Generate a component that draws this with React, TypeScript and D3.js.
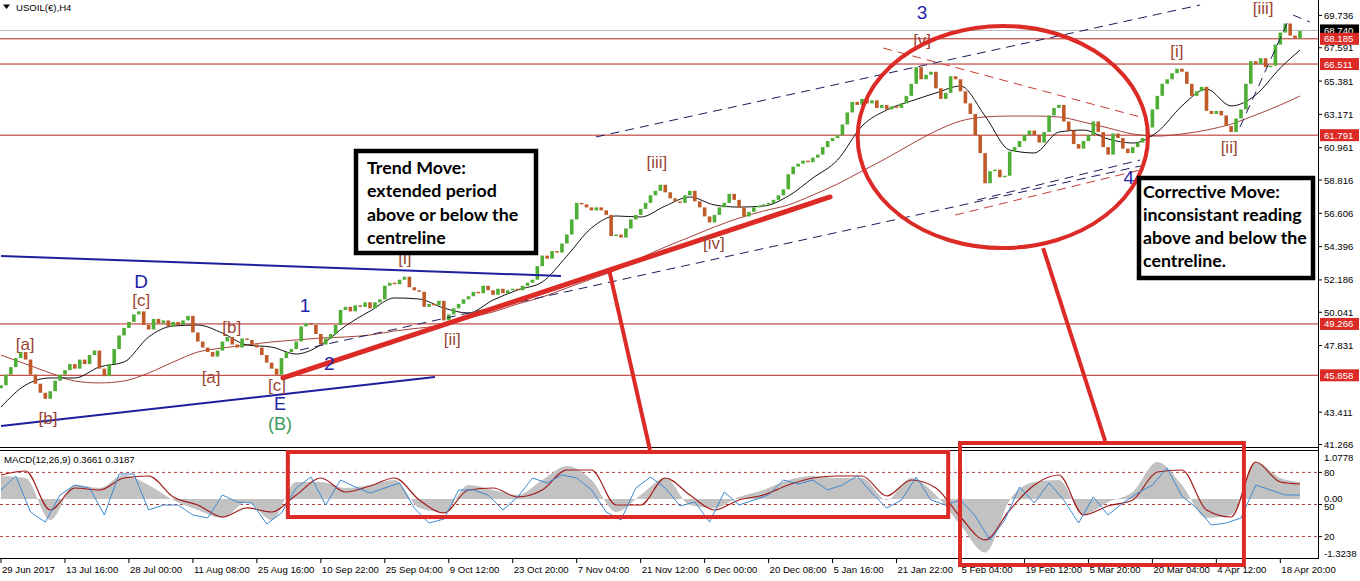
import React, { useLayoutEffect } from "react";
import * as d3 from "d3";

// ---- price data (H4 closes, one value per plotted bar) ----
const firstOpen = 45.0;
const closes: number[] = [
  45.2, 45.9, 46.4, 47.0, 47.4, 46.9, 45.9, 45.3, 44.7, 44.3, 44.8, 45.5, 45.9,
  46.2, 46.6, 46.3, 46.9, 46.6, 47.2, 47.5, 46.3, 45.8, 46.6, 47.6, 48.5, 49.0,
  49.4, 49.9, 50.1, 49.2, 48.9, 49.6, 49.3, 49.5, 49.1, 49.4, 49.2, 49.5, 49.8,
  48.7, 48.1, 47.7, 47.4, 47.1, 47.5, 48.1, 48.4, 47.9, 47.7, 48.3, 48.2, 47.9,
  47.7, 47.2, 46.7, 46.3, 45.9, 47.0, 47.4, 47.6, 48.1, 49.1, 49.3, 49.2, 48.6,
  47.9, 48.3, 48.6, 49.2, 50.2, 50.4, 50.1, 50.5, 50.4, 50.7, 50.3, 50.7, 50.9,
  51.8, 52.0, 51.9, 52.2, 52.4, 51.7, 51.5, 51.4, 50.4, 50.6, 50.5, 50.8, 49.5,
  49.9, 50.3, 50.6, 50.9, 51.1, 51.4, 51.3, 51.8, 51.5, 51.2, 51.6, 51.3, 51.5,
  51.6, 51.5, 51.8, 52.0, 52.2, 53.1, 53.8, 53.6, 54.1, 54.0, 54.6, 55.2, 56.2,
  57.3, 57.2, 57.0, 56.8, 57.0, 56.8, 56.5, 55.1, 55.2, 55.0, 55.6, 56.2, 56.5,
  56.9, 57.3, 57.8, 58.1, 58.5, 58.0, 57.6, 57.4, 57.3, 57.8, 58.1, 57.4, 57.0,
  56.4, 56.0, 56.5, 57.0, 57.3, 57.9, 57.5, 57.0, 56.4, 56.7, 57.0, 57.1, 57.2,
  57.3, 57.5, 57.8, 58.2, 59.2, 59.7, 59.9, 60.1, 60.0, 60.3, 60.5, 61.0, 61.4,
  61.6, 61.8, 62.5, 63.3, 64.0, 63.8, 64.2, 63.9, 64.1, 63.6, 63.8, 63.5, 63.7,
  63.6, 63.9, 64.4, 65.2, 66.3, 65.5, 65.8, 66.0, 64.9, 64.2, 64.6, 65.7, 65.5,
  64.7, 63.9, 63.2, 61.8, 60.6, 58.6, 59.4, 59.5, 59.0, 59.1, 60.7, 61.0, 61.4,
  61.8, 62.1, 61.8, 61.3, 62.0, 63.1, 63.6, 63.8, 62.7, 62.1, 61.2, 60.9, 61.4,
  61.8, 62.7, 62.0, 61.0, 60.5, 61.9, 61.6, 60.9, 60.6, 61.0, 61.3, 61.6, 62.3,
  63.5, 64.4, 65.2, 65.5, 65.9, 66.2, 66.0, 65.2, 64.4, 64.7, 65.0, 63.4, 63.2,
  63.4, 63.1, 62.4, 62.0, 62.9, 63.5, 65.2, 66.7, 66.5, 66.9, 66.3, 66.4, 67.8,
  68.6, 69.2, 68.4, 68.2, 68.7,
];

// ---- moving averages, sampled every 5 bars ----
const maIndex: number[] = [
  0, 5, 10, 15, 20, 25, 30, 35, 40, 45, 50, 55, 60, 65, 70, 75, 80, 85, 90, 95,
  100, 105, 110, 115, 120, 125, 130, 135, 140, 145, 150, 155, 160, 165, 170, 175,
  180, 185, 190, 195, 200, 205, 210, 215, 220, 225, 230, 235, 240, 245, 250, 255,
  260, 264,
];
const maFast: number[] = [
  43.75, 45.21, 45.68, 45.68, 46.41, 46.74, 48.4, 49.13, 49.19, 48.66, 47.87,
  47.73, 47.27, 47.87, 49.13, 50.12, 50.99, 50.92, 50.32, 49.99, 50.85, 51.52,
  52.05, 53.77, 55.63, 56.43, 56.36, 57.09, 57.69, 57.16, 57.02, 57.09, 57.75,
  58.95, 60.14, 62.4, 63.46, 64.06, 64.59, 65.05, 63.06, 60.81, 60.61, 62.0,
  62.13, 61.54, 61.27, 62.0, 63.73, 64.85, 63.73, 64.46, 66.25, 67.44,
];
const maSlow: number[] = [
  47.2, 46.61, 46.01, 45.48, 45.35, 45.48, 46.01, 46.74, 47.4, 47.67, 47.87,
  48.07, 48.2, 48.33, 48.4, 48.53, 48.8, 48.99, 49.19, 49.66, 50.06, 50.59,
  51.05, 51.65, 52.25, 52.84, 53.64, 54.37, 55.03, 55.7, 56.29, 56.76, 57.16,
  57.82, 58.55, 59.41, 60.27, 61.2, 62.07, 62.73, 63.0, 63.06, 63.06, 63.0,
  62.66, 62.27, 61.87, 61.73, 61.87, 62.13, 62.53, 63.13, 63.79, 64.39,
];

// ---- MACD(12,26,9), sampled every 5 bars ----
const macdMain: number[] = [
  0.517, 0.472, -0.471, 0.315, 0.247, 0.539, 0.315, -0.021, -0.246, -0.426,
  -0.066, -0.471, 0.382, 0.382, 0.247, 0.315, 0.427, -0.201, -0.291, 0.315,
  0.203, 0.09, 0.427, 0.741, 0.427, -0.291, 0.09, 0.472, -0.134, -0.201, 0.046,
  0.203, 0.427, 0.517, 0.472, 0.472, -0.021, 0.472, 0.09, -0.583, -1.2, -0.021,
  0.382, 0.427, -0.358, -0.066, 0.158, 0.831, 0.315, -0.426, -0.358, 0.831,
  0.472, 0.382,
];
const macdSignal: number[] = [
  0.539, 0.629, -0.246, 0.247, 0.203, 0.472, 0.517, 0.046, -0.134, -0.403,
  -0.201, -0.291, 0.09, 0.472, 0.158, 0.292, 0.472, -0.021, -0.313, 0.203,
  0.247, 0.046, 0.203, 0.651, 0.651, -0.134, -0.134, 0.472, 0.09, -0.246,
  -0.021, 0.09, 0.315, 0.472, 0.517, 0.517, 0.068, 0.427, 0.247, -0.403, -0.919,
  -0.246, 0.315, 0.539, -0.358, -0.156, -0.021, 0.606, 0.651, -0.246, -0.403,
  0.831, 0.382, 0.337,
];

// ---- oscillator (0..100, levels 80/50/20), sampled every 3 bars ----
const oscStep = 3;
const oscValues: number[] = [
  63.6, 76.6, 43.0, 33.6, 58.9, 68.2, 65.4, 40.2, 78.5, 78.5,
  44.9, 49.5, 49.5, 40.2, 37.4, 58.9, 52.3, 51.4, 31.8, 42.1,
  65.4, 75.7, 49.5, 72.9, 66.4, 60.7, 65.4, 70.1, 46.7, 32.7,
  36.4, 63.6, 63.6, 58.9, 44.9, 57.0, 74.8, 70.1, 77.6, 74.8,
  63.6, 43.0, 35.5, 65.4, 75.7, 65.4, 48.6, 52.3, 33.6, 61.7,
  49.5, 54.2, 58.9, 72.9, 69.2, 72.9, 63.6, 68.2, 76.6, 60.7,
  46.7, 54.2, 75.7, 54.2, 49.5, 54.2, 39.3, 16.8, 35.5, 66.4,
  51.4, 70.1, 54.2, 32.7, 57.0, 40.2, 51.4, 60.7, 68.2, 84.1,
  57.9, 46.7, 30.8, 32.7, 37.4, 68.2, 63.6, 58.9, 58.9,
];
const oscLevels: number[] = [80, 50, 20];

// ---- axes ----
const timeLabels: string[] = [
  "29 Jun 2017", "13 Jul 16:00", "28 Jul 00:00", "11 Aug 08:00", "25 Aug 16:00",
  "10 Sep 22:00", "25 Sep 04:00", "9 Oct 12:00", "23 Oct 20:00", "7 Nov 04:00",
  "21 Nov 12:00", "6 Dec 00:00", "20 Dec 08:00", "5 Jan 16:00", "21 Jan 22:00",
  "5 Feb 04:00", "19 Feb 12:00", "5 Mar 20:00", "20 Mar 04:00", "4 Apr 12:00",
  "18 Apr 20:00",
];
const barsPerTimeLabel = 13;
const priceTicks: number[] = [
  69.736, 67.591, 65.381, 63.171, 60.961, 58.816, 56.606, 54.396, 52.186,
  50.041, 47.831, 43.411, 41.266,
];
const priceLevels: number[] = [68.185, 66.511, 61.791, 49.266, 45.858];
const lastPrice = 68.74;
const macdMax = 1.0778;
const macdMin = -1.3238;

// ---- annotations in (bar index, price) ----
const blueLines = [
  [[0, 53.77], [113.8, 52.45]],
  [[0, 42.49], [88.2, 45.74]],
];
const trendLine = [[57.3, 45.68], [168.5, 57.69]];
const channelLines = [
  [[60.8, 47.54], [232.5, 59.81]],
  [[120.9, 61.67], [243.7, 70.43]],
  [[198.4, 57.49], [231.5, 60.14]],
  [[251.8, 62.33], [261.4, 69.23]],
  [[262.6, 69.76], [266.0, 69.3]],
];
const redDashed = [
  [[179.3, 67.57], [231.5, 63.0]],
  [[193.9, 56.49], [231.5, 59.48]],
];
const ellipseData = { idx: 203.6, price: 61.67, halfBars: 29.5, halfPrice: 7.37 };
const connectors = [
  { from: [123.6, 52.84], to: [131.9, 1.1] },
  { from: [211.8, 54.3], to: [224.4, 1.302] },
];
const macdBoxes = [
  { i0: 58.3, i1: 192.5, top: 1.055, bottom: -0.404 },
  { i0: 194.9, i1: 252.6, top: 1.257, bottom: -1.481 },
];

const BROWN = "#9a4535";
const NAVY = "#2323a8";
const GREEN = "#3c9a5c";
type WaveLabel = { t: string; i: number; p: number; c: string; s: number };
const waveLabels: WaveLabel[] = [
  { t: "[a]", i: 4.9, p: 47.87, c: BROWN, s: 17 },
  { t: "[b]", i: 9.55, p: 42.96, c: BROWN, s: 17 },
  { t: "D", i: 28.5, p: 52.05, c: NAVY, s: 19 },
  { t: "[c]", i: 28.5, p: 50.79, c: BROWN, s: 17 },
  { t: "[a]", i: 42.7, p: 45.74, c: BROWN, s: 17 },
  { t: "[b]", i: 46.9, p: 49.06, c: BROWN, s: 17 },
  { t: "[c]", i: 56.1, p: 45.15, c: BROWN, s: 17 },
  { t: "E", i: 56.7, p: 43.98, c: NAVY, s: 18 },
  { t: "(B)", i: 56.7, p: 42.62, c: GREEN, s: 18 },
  { t: "1", i: 61.8, p: 50.52, c: NAVY, s: 19 },
  { t: "2", i: 66.7, p: 46.61, c: NAVY, s: 19 },
  { t: "[i]", i: 82.1, p: 53.6, c: BROWN, s: 17 },
  { t: "[ii]", i: 91.7, p: 48.26, c: BROWN, s: 17 },
  { t: "[iii]", i: 133.3, p: 60.01, c: BROWN, s: 17 },
  { t: "[iv]", i: 144.9, p: 54.57, c: BROWN, s: 17 },
  { t: "3", i: 187.2, p: 69.9, c: NAVY, s: 19 },
  { t: "[v]", i: 187.2, p: 68.04, c: BROWN, s: 17 },
  { t: "4", i: 229.2, p: 58.95, c: NAVY, s: 19 },
  { t: "[i]", i: 239.0, p: 67.31, c: BROWN, s: 17 },
  { t: "[ii]", i: 249.6, p: 60.94, c: BROWN, s: 17 },
  { t: "[iii]", i: 256.5, p: 70.2, c: BROWN, s: 17 },
];

const trendText = ["Trend Move:", "extended period", "above or below the", "centreline"];
const correctiveText = ["Corrective Move:", "inconsistant reading", "above and below the", "centreline."];

const FONT = "'Liberation Sans', Arial, sans-serif";
const BOXFONT = "Lato, 'Open Sans', sans-serif";
const RED = "#dc2b26";

export default function App() {
  useLayoutEffect(() => {
    document.body.style.margin = "0";
  }, []);

  const W = 1360;
  const H = 581;
  const right = 1318;
  const mainBottom = 447;
  const subTop = 451;
  const subBottom = 558;

  const x = d3.scaleLinear().domain([0, 264]).range([1, 1300]);
  const y = d3.scaleLinear().domain([41.1, 70.76]).range([mainBottom, 0]);
  const ym = d3.scaleLinear().domain([macdMin, macdMax]).range([subBottom, subTop]);
  const yo = d3.scaleLinear().domain([0, 100]).range([subBottom, subTop]);

  const candles = closes.map((c, i) => ({ i, o: i === 0 ? firstOpen : closes[i - 1], c }));

  const maPath = (vals: number[]) =>
    d3
      .line<number>()
      .x((_, k) => x(maIndex[k]))
      .y((v) => y(v))
      .curve(d3.curveMonotoneX)(vals) || "";

  const histArea =
    d3
      .area<number>()
      .x((_, k) => x(maIndex[k]))
      .y0(ym(0))
      .y1((v) => ym(v))
      .curve(d3.curveMonotoneX)(macdMain) || "";
  const signalPath =
    d3
      .line<number>()
      .x((_, k) => x(maIndex[k]))
      .y((v) => ym(v))
      .curve(d3.curveMonotoneX)(macdSignal) || "";
  const oscPath =
    d3
      .line<number>()
      .x((_, k) => x(k * oscStep))
      .y((v) => yo(v))(oscValues) || "";

  const seg = (s: number[][], yScale = y) => ({
    x1: x(s[0][0]),
    y1: yScale(s[0][1]),
    x2: x(s[1][0]),
    y2: yScale(s[1][1]),
  });

  const tickXs = timeLabels.map((_, k) => x(k * barsPerTimeLabel));

  return (
    <svg
      width={W}
      height={H}
      style={{ position: "absolute", left: 0, top: 0, display: "block", background: "#fff" }}
      fontFamily={FONT}
    >
      <defs>
        <clipPath id="mainClip">
          <rect x={0} y={0} width={right} height={mainBottom} />
        </clipPath>
        <clipPath id="subClip">
          <rect x={0} y={subTop} width={right} height={subBottom - subTop} />
        </clipPath>
      </defs>

      {/* title */}
      <path d="M3,4.5 L10,4.5 L6.5,9 Z" fill="#000" />
      <text x={16} y={7} fontSize={9.6} dominantBaseline="central" fill="#000">
        USOIL(€),H4
      </text>

      {/* main panel */}
      <g clipPath="url(#mainClip)">
        <line x1={0} x2={right} y1={y(lastPrice)} y2={y(lastPrice)} stroke="#b4b4b4" strokeWidth={1} />
        {priceLevels.map((p, k) => (
          <line key={k} x1={0} x2={right} y1={y(p)} y2={y(p)} stroke="#b3241c" strokeWidth={1} />
        ))}

        {/* moving averages */}
        <path d={maPath(maSlow)} fill="none" stroke="#a5413a" strokeWidth={1} />
        <path d={maPath(maFast)} fill="none" stroke="#111" strokeWidth={1} />

        {/* candles */}
        {candles.map((d) => {
          const top = y(Math.max(d.o, d.c));
          const h = Math.max(1.5, Math.abs(y(d.o) - y(d.c)));
          return (
            <rect
              key={d.i}
              x={x(d.i) - 1.8}
              y={top}
              width={3.6}
              height={h}
              fill={d.c >= d.o ? "#4fae35" : "#c05a28"}
            />
          );
        })}

        {/* blue trend lines */}
        {blueLines.map((s, k) => (
          <line key={k} {...seg(s)} stroke="#1e1e9e" strokeWidth={2} />
        ))}
        {/* dashed channel lines */}
        {channelLines.map((s, k) => (
          <line key={k} {...seg(s)} stroke="#1c1c5c" strokeWidth={1} strokeDasharray="9,6" />
        ))}
        {redDashed.map((s, k) => (
          <line key={k} {...seg(s)} stroke="#c83a34" strokeWidth={1} strokeDasharray="9,6" />
        ))}
        {/* thick red trend line */}
        <line {...seg(trendLine)} stroke={RED} strokeWidth={5} strokeLinecap="round" />

        {/* wave labels */}
        {waveLabels.map((l, k) => (
          <text
            key={k}
            x={x(l.i)}
            y={y(l.p)}
            fill={l.c}
            fontSize={l.s}
            textAnchor="middle"
            dominantBaseline="central"
          >
            {l.t}
          </text>
        ))}

        {/* ellipse */}
        <ellipse
          cx={x(ellipseData.idx)}
          cy={y(ellipseData.price)}
          rx={x(ellipseData.idx + ellipseData.halfBars) - x(ellipseData.idx)}
          ry={y(ellipseData.price - ellipseData.halfPrice) - y(ellipseData.price)}
          fill="none"
          stroke={RED}
          strokeWidth={4}
        />
      </g>

      {/* MACD panel */}
      <g clipPath="url(#subClip)">
        {oscLevels.map((lv) => (
          <line key={lv} x1={0} x2={right} y1={yo(lv)} y2={yo(lv)} stroke="#b03a3a" strokeWidth={1} strokeDasharray="3,3" />
        ))}
        <path d={histArea} fill="#c2c2c2" />
        <path d={signalPath} fill="none" stroke="#a21c1c" strokeWidth={1.2} />
        <path d={oscPath} fill="none" stroke="#3d8ad4" strokeWidth={1} />
      </g>
      <text x={4} y={459} fontSize={9.6} dominantBaseline="central" fill="#000">
        MACD(12,26,9) 0.3661 0.3187
      </text>

      {/* frames */}
      <line x1={0} x2={right} y1={mainBottom + 0.5} y2={mainBottom + 0.5} stroke="#000" />
      <line x1={0} x2={right} y1={subTop - 0.5} y2={subTop - 0.5} stroke="#000" />
      <line x1={0} x2={right} y1={subBottom + 0.5} y2={subBottom + 0.5} stroke="#000" />
      <line x1={right + 0.5} x2={right + 0.5} y1={0} y2={subBottom + 1} stroke="#000" />

      {/* price axis */}
      {priceTicks.map((p) => (
        <g key={p}>
          <line x1={right} x2={right + 4} y1={y(p)} y2={y(p)} stroke="#000" />
          <text x={1324} y={y(p)} fontSize={9.6} dominantBaseline="central" fill="#000">
            {p.toFixed(3)}
          </text>
        </g>
      ))}
      <rect x={1320} y={y(lastPrice) - 6} width={39} height={12} fill="#000" />
      <text x={1324} y={y(lastPrice)} fontSize={9.6} dominantBaseline="central" fill="#fff">
        {lastPrice.toFixed(3)}
      </text>
      {priceLevels.map((p) => (
        <g key={p}>
          <rect x={1320} y={y(p) - 6} width={39} height={12} fill={RED} />
          <text x={1324} y={y(p)} fontSize={9.6} dominantBaseline="central" fill="#fff">
            {p.toFixed(3)}
          </text>
        </g>
      ))}

      {/* MACD axis */}
      <text x={1324} y={ym(macdMax) + 6} fontSize={9.6} dominantBaseline="central">{macdMax.toFixed(4)}</text>
      <text x={1324} y={ym(macdMin) - 5} fontSize={9.6} dominantBaseline="central">{macdMin.toFixed(4)}</text>
      <text x={1324} y={ym(0) - 1} fontSize={9.6} dominantBaseline="central">0.00</text>
      {oscLevels.map((lv) => (
        <g key={lv}>
          <line x1={right} x2={right + 4} y1={yo(lv)} y2={yo(lv)} stroke="#000" />
          <text x={1324} y={yo(lv) + (lv === 50 ? 2 : 0)} fontSize={9.6} dominantBaseline="central">{lv}</text>
        </g>
      ))}

      {/* time axis */}
      {timeLabels.map((t, k) => (
        <g key={t}>
          <line x1={tickXs[k]} x2={tickXs[k]} y1={subBottom} y2={subBottom + 5} stroke="#000" />
          <text x={tickXs[k] + 1} y={569} fontSize={9.6} dominantBaseline="central" fill="#000">
            {t}
          </text>
        </g>
      ))}

      {/* connectors and highlight boxes */}
      {connectors.map((c, k) => (
        <line
          key={k}
          x1={x(c.from[0])}
          y1={y(c.from[1])}
          x2={x(c.to[0])}
          y2={ym(c.to[1])}
          stroke={RED}
          strokeWidth={4}
        />
      ))}
      {macdBoxes.map((b, k) => (
        <rect
          key={k}
          x={x(b.i0)}
          y={ym(b.top)}
          width={x(b.i1) - x(b.i0)}
          height={ym(b.bottom) - ym(b.top)}
          fill="none"
          stroke={RED}
          strokeWidth={4}
        />
      ))}

      {/* text boxes */}
      <rect x={356} y={151} width={180} height={102} fill="#fff" stroke="#000" strokeWidth={4.5} />
      {trendText.map((t, k) => (
        <text key={k} x={367} y={174 + k * 23.3} fontFamily={BOXFONT} fontWeight={700} fontSize={17.8} fill="#000">
          {t}
        </text>
      ))}
      <rect x={1139} y={178} width={174} height={100} fill="#fff" stroke="#000" strokeWidth={4.5} />
      {correctiveText.map((t, k) => (
        <text key={k} x={1143} y={198 + k * 23} fontFamily={BOXFONT} fontWeight={700} fontSize={17.8} fill="#000">
          {t}
        </text>
      ))}
    </svg>
  );
}
